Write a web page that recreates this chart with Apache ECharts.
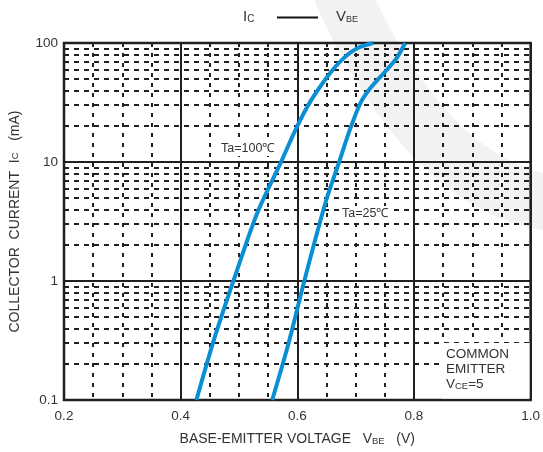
<!DOCTYPE html>
<html><head><meta charset="utf-8">
<script src="https://cdn.jsdelivr.net/npm/echarts@6/dist/echarts.min.js"></script>
<style>html,body{margin:0;padding:0;background:#fff}#c{width:543px;height:452px}</style>
</head><body><div id="c"></div>
<script>
// ---- data ----
const xMin = 0.2, xMax = 1.0, xStep = 0.2;
const yMin = 0.1, yMax = 100;
const minorY = [0.2,0.3,0.4,0.5,0.6,0.7,0.8,0.9, 2,3,4,5,6,7,8,9, 20,30,40,50,60,70,80,90];
const vbe100 = [0.427, 0.457, 0.491, 0.531, 0.571, 0.5995, 0.622, 0.656, 0.679, 0.702, 0.730];
const ic100  = [0.1,   0.32,  1.02,  3.7,   9.75,  19.8,   32,    55.6,  74.3,  90,    100];
const vbe25  = [0.557, 0.585, 0.612, 0.648, 0.671, 0.690, 0.708, 0.725, 0.753, 0.770, 0.785];
const ic25   = [0.1,   0.3,   1.0,   4.5,   9.76,  18.6,  31.1,  41.6,  59.3,  74.3,  100];

const ink = '#231f20', txt = '#333', blue = '#0a8fd5';
const FF = '"Liberation Sans", Arial, sans-serif';
const zip = (a, b) => a.map((v, i) => [v, b[i]]);

const chart = echarts.init(document.getElementById('c'), null, {renderer: 'canvas'});
chart.setOption({
  backgroundColor: '#fff',
  animation: false,
  textStyle: {fontFamily: FF},
  grid: {left: 63, right: 12, top: 43, bottom: 52, show: true, borderColor: ink, borderWidth: 2.5},
  xAxis: {
    type: 'value', min: xMin, max: xMax, interval: xStep,
    axisLine: {show: false}, axisTick: {show: false},
    axisLabel: {formatter: v => v.toFixed(1), color: txt, fontSize: 13.5, margin: 9, fontFamily: FF},
    splitLine: {show: true, lineStyle: {color: ink, width: 2}},
    minorTick: {show: false, splitNumber: 4},
    minorSplitLine: {show: true, lineStyle: {color: ink, width: 2, type: [4, 6]}},
    name: 'BASE-EMITTER VOLTAGE   V{s|BE}   (V)', nameLocation: 'middle', nameGap: 32,
    nameTextStyle: {color: txt, fontSize: 14, fontFamily: FF,
      rich: {s: {fontSize: 9.5, color: txt, fontFamily: FF, verticalAlign: 'bottom'}}}
  },
  yAxis: {
    type: 'log', logBase: 10, min: yMin, max: yMax,
    axisLine: {show: false}, axisTick: {show: false},
    axisLabel: {color: txt, fontSize: 13.5, margin: 6, fontFamily: FF,
      formatter: v => (v >= 1 ? String(Math.round(v)) : String(+v.toFixed(1)))},
    splitLine: {show: true, lineStyle: {color: ink, width: 2}},
    name: 'COLLECTOR  CURRENT  I{s|C}   (mA)', nameLocation: 'middle', nameGap: 42, nameRotate: 90,
    nameTextStyle: {color: txt, fontSize: 14, fontFamily: FF,
      rich: {s: {fontSize: 9.5, color: txt, fontFamily: FF}}}
  },
  series: [
    {type: 'line', name: 'minor', data: [], z: 1, silent: true,
     markLine: {silent: true, symbol: ['none', 'none'], label: {show: false}, animation: false,
       lineStyle: {color: ink, width: 2, type: [5, 5]}, emphasis: {disabled: true},
       data: minorY.map(v => ({yAxis: v}))}},
    {type: 'line', name: 'Ta=100', data: zip(vbe100, ic100), smooth: 0.3, symbol: 'none', z: 5,
     lineStyle: {color: blue, width: 4}},
    {type: 'line', name: 'Ta=25', data: zip(vbe25, ic25), smooth: 0.3, symbol: 'none', z: 5,
     lineStyle: {color: blue, width: 4}}
  ],
  graphic: [
    {type: 'bezierCurve', z: -10, silent: true,
     shape: {x1: 340, y1: -10, x2: 565, y2: 205, cpx1: 432, cpy1: 195},
     style: {stroke: '#f2f2f2', lineWidth: 56, fill: null}},
    {type: 'rect', z: 50, shape: {x: 442, y: 343, width: 87.5, height: 55.5}, style: {fill: '#fff'}},
    {type: 'text', z: 60, left: 446, top: 347, style: {text: 'COMMON', font: '13.5px ' + FF, fill: txt}},
    {type: 'text', z: 60, left: 446, top: 362, style: {text: 'EMITTER', font: '13.5px ' + FF, fill: txt}},
    {type: 'text', z: 60, left: 446, top: 377, style: {text: 'V{s|CE}=5', font: '13.5px ' + FF, fill: txt,
      rich: {s: {fontSize: 9.5, fill: txt, fontFamily: FF, verticalAlign: 'bottom'}}}},
    {type: 'text', z: 60, left: 220, top: 141, style: {text: 'Ta=100℃', font: '12.5px ' + FF, fill: txt,
      backgroundColor: '#fff', padding: [1, 1, 1, 1]}},
    {type: 'text', z: 60, left: 341, top: 206, style: {text: 'Ta=25℃', font: '12.5px ' + FF, fill: txt,
      backgroundColor: '#fff', padding: [1, 1, 1, 1]}},
    {type: 'text', z: 60, left: 243, top: 9, style: {text: 'I{s|C}', font: '15px ' + FF, fill: txt,
      rich: {s: {fontSize: 10, fill: txt, fontFamily: FF, verticalAlign: 'bottom'}}}},
    {type: 'line', z: 60, shape: {x1: 277, y1: 17.5, x2: 318, y2: 17.5}, style: {stroke: '#111', lineWidth: 2}},
    {type: 'text', z: 60, left: 336, top: 9, style: {text: 'V{s|BE}', font: '15px ' + FF, fill: txt,
      rich: {s: {fontSize: 9, fill: txt, fontFamily: FF, verticalAlign: 'bottom'}}}}
  ]
});
</script>
</body></html>
